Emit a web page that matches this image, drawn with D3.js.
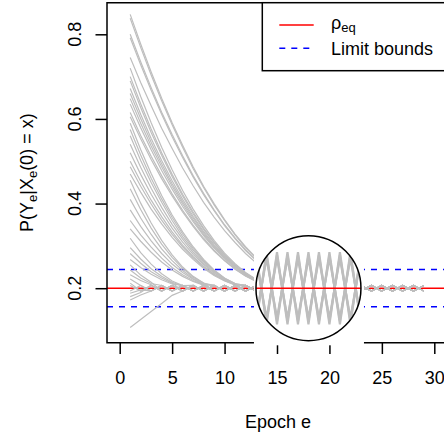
<!DOCTYPE html>
<html><head><meta charset="utf-8">
<script src="https://cdn.jsdelivr.net/npm/d3@7"></script>
<style>html,body{margin:0;padding:0;background:#fff}svg{display:block}</style>
</head><body><svg id="c" width="444" height="440"></svg>
<script>
// ---------------- data ----------------
const epochs = [1,2,3,4,5,6,7,8,9,10,11,12,13,14,15,16,17,18,19,20,21,22,23,24,25,26,27,28,29];
const rhoEq = 0.2;
const limitBounds = [0.244, 0.156];
const xTicks = [0,5,10,15,20,25,30];
const yTicks = [0.2,0.4,0.6,0.8];
const yTickLabels = ["0.2","0.4","0.6","0.8"];

// settled oscillation around rho_eq (two phases), epochs 1..29
const tailA = [0.2065,0.1935,0.2065,0.1935,0.2065,0.1935,0.2065,0.1935,0.2065,0.1935,0.2065,0.1935,0.2065,0.1935,0.2065,0.1935,0.2065,0.1935,0.2065,0.1935,0.2065,0.1935,0.2065,0.1935,0.2065,0.1935,0.2065,0.1935,0.2065];
const tailB = [0.1935,0.2065,0.1935,0.2065,0.1935,0.2065,0.1935,0.2065,0.1935,0.2065,0.1935,0.2065,0.1935,0.2065,0.1935,0.2065,0.1935,0.2065,0.1935,0.2065,0.1935,0.2065,0.1935,0.2065,0.1935,0.2065,0.1935,0.2065,0.1935];

// transient part of each trajectory, from epoch 1
const curveHeads = [
 [0.847,0.777,0.711,0.649,0.591,0.538,0.487,0.441,0.400,0.362,0.328,0.298,0.272,0.250,0.232,0.218,0.208],
 [0.838,0.769,0.704,0.643,0.586,0.533,0.483,0.438,0.397,0.360,0.326,0.296,0.271,0.249,0.231,0.218,0.208],
 [0.800,0.735,0.674,0.616,0.563,0.513,0.466,0.424,0.385,0.350,0.319,0.291,0.267,0.246,0.229,0.217,0.207],
 [0.792,0.728,0.668,0.611,0.558,0.509,0.463,0.421,0.383,0.348,0.317,0.289,0.266,0.246,0.229,0.217,0.207],
 [0.745,0.686,0.631,0.578,0.530,0.484,0.442,0.403,0.368,0.336,0.308,0.282,0.260,0.242,0.227,0.215,0.207],
 [0.720,0.653,0.591,0.533,0.480,0.431,0.387,0.348,0.313,0.283,0.258,0.237,0.221,0.209],
 [0.700,0.636,0.576,0.520,0.469,0.422,0.380,0.342,0.309,0.280,0.256,0.236,0.220,0.209],
 [0.690,0.627,0.568,0.514,0.464,0.418,0.376,0.339,0.307,0.278,0.254,0.235,0.220,0.209],
 [0.672,0.611,0.554,0.502,0.454,0.410,0.370,0.334,0.303,0.276,0.252,0.234,0.219,0.208],
 [0.660,0.601,0.545,0.494,0.447,0.404,0.366,0.331,0.300,0.274,0.251,0.233,0.218,0.208],
 [0.648,0.590,0.536,0.487,0.441,0.399,0.361,0.327,0.298,0.272,0.250,0.232,0.218,0.208],
 [0.635,0.579,0.527,0.478,0.434,0.393,0.357,0.324,0.295,0.270,0.248,0.231,0.217,0.208],
 [0.615,0.561,0.512,0.466,0.423,0.384,0.349,0.318,0.290,0.266,0.246,0.229,0.217,0.207],
 [0.605,0.553,0.504,0.459,0.418,0.380,0.346,0.315,0.288,0.265,0.245,0.229,0.216,0.207],
 [0.590,0.528,0.471,0.419,0.373,0.333,0.298,0.268,0.243,0.224,0.211],
 [0.575,0.515,0.460,0.411,0.367,0.328,0.294,0.265,0.242,0.223,0.211],
 [0.560,0.502,0.450,0.403,0.360,0.322,0.290,0.263,0.240,0.223,0.210],
 [0.540,0.486,0.436,0.391,0.351,0.316,0.285,0.259,0.238,0.221,0.210],
 [0.520,0.469,0.422,0.380,0.342,0.309,0.280,0.256,0.236,0.220,0.209],
 [0.500,0.452,0.408,0.369,0.333,0.302,0.275,0.252,0.233,0.219,0.208],
 [0.487,0.441,0.399,0.361,0.327,0.298,0.272,0.250,0.232,0.218,0.208],
 [0.470,0.427,0.387,0.352,0.320,0.292,0.268,0.247,0.230,0.217,0.208],
 [0.455,0.401,0.354,0.313,0.279,0.250,0.228,0.212],
 [0.435,0.386,0.342,0.304,0.273,0.247,0.226,0.212],
 [0.410,0.366,0.327,0.293,0.265,0.242,0.223,0.210],
 [0.385,0.346,0.312,0.282,0.257,0.237,0.221,0.209],
 [0.360,0.326,0.297,0.271,0.249,0.232,0.218,0.208],
 [0.340,0.311,0.285,0.262,0.243,0.228,0.216,0.207],
 [0.318,0.284,0.257,0.234,0.217,0.206],
 [0.296,0.269,0.246,0.228,0.214,0.205],
 [0.282,0.259,0.239,0.224,0.212],
 [0.268,0.249,0.233,0.220,0.210],
 [0.255,0.231,0.214],
 [0.243,0.224,0.211],
 [0.232,0.218,0.208],
 [0.222],
 [0.212],
 [],
 [],
 [0.188,0.196],
 [0.180,0.190],
 [0.172,0.184],
 [0.107,0.126,0.145,0.164,0.183]
];
const curvePhase = ["A","B","A","B","A","B","A","B","A","B","A","B","A","B","A","B","A","B","A","B","A","B","A","B","A","B","A","B","A","B","A","B","A","B","A","B","A","B","A","B","A","B","A"];

// magnified inset (zoom on rho_eq), epochs 12..24
const insetEpochs = [12,13,14,15,16,17,18,19,20,21,22,23,24];
const insetLo1 = [0.1941,0.2059,0.1941,0.2059,0.1941,0.2059,0.1941,0.2059,0.1941,0.2059,0.1941,0.2059,0.1941];
const insetLo2 = [0.1935,0.2065,0.1935,0.2065,0.1935,0.2065,0.1935,0.2065,0.1935,0.2065,0.1935,0.2065,0.1935];
const insetLo3 = [0.1929,0.2071,0.1929,0.2071,0.1929,0.2071,0.1929,0.2071,0.1929,0.2071,0.1929,0.2071,0.1929];
const insetHi1 = [0.2059,0.1941,0.2059,0.1941,0.2059,0.1941,0.2059,0.1941,0.2059,0.1941,0.2059,0.1941,0.2059];
const insetHi2 = [0.2065,0.1935,0.2065,0.1935,0.2065,0.1935,0.2065,0.1935,0.2065,0.1935,0.2065,0.1935,0.2065];
const insetHi3 = [0.2071,0.1929,0.2071,0.1929,0.2071,0.1929,0.2071,0.1929,0.2071,0.1929,0.2071,0.1929,0.2071];
const insetCenter = 18;

// ---------------- drawing ----------------
const FONT = "'Liberation Sans', Arial, Helvetica, sans-serif";
const GRAY = "#BEBEBE";
const svg = d3.select("#c");
svg.append("rect").attr("width",444).attr("height",440).attr("fill","#fff");

const P = {left:107, top:2.7, right:449, bottom:342.7};
const x = d3.scaleLinear().domain([0,30]).range([119.7,434.3]);
const y = d3.scaleLinear().domain([0.2,0.8]).range([288.2,34.3]);

const defs = svg.append("defs");
defs.append("clipPath").attr("id","plotclip").append("rect")
  .attr("x",P.left).attr("y",P.top).attr("width",P.right-P.left).attr("height",P.bottom-P.top);

const plotG = svg.append("g").attr("clip-path","url(#plotclip)");

// reference lines
plotG.append("line").attr("x1",P.left).attr("x2",P.right)
  .attr("y1",y(rhoEq)).attr("y2",y(rhoEq))
  .attr("stroke","#FF0000").attr("stroke-width",1.5);
plotG.selectAll("line.bound").data(limitBounds).join("line").attr("class","bound")
  .attr("x1",P.left).attr("x2",P.right)
  .attr("y1",d=>y(d)).attr("y2",d=>y(d))
  .attr("stroke","#0000FF").attr("stroke-width",1.5).attr("stroke-dasharray","6,6");

// trajectories
const series = curveHeads.map((h,i)=>{
  const tail = curvePhase[i]==="A" ? tailA : tailB;
  const vals = h.concat(tail.slice(h.length));
  return epochs.map((e,j)=>[e, vals[j]]);
});
const line = d3.line().x(d=>x(d[0])).y(d=>y(d[1]));
plotG.selectAll("path.traj").data(series).join("path").attr("class","traj")
  .attr("d",line).attr("fill","none").attr("stroke",GRAY).attr("stroke-width",1.2);

// box
svg.append("path")
  .attr("d",`M${P.right},${P.top}H${P.left}V${P.bottom}H${P.right}`)
  .attr("fill","none").attr("stroke","#000").attr("stroke-width",1.5);

// x axis
const xAxis = d3.axisBottom(x).tickValues(xTicks).tickSize(11.3).tickSizeOuter(0).tickPadding(17.2)
  .tickFormat(d3.format("d"));
const xg = svg.append("g").attr("transform",`translate(0,${P.bottom})`).call(xAxis);
xg.select(".domain").remove();
xg.selectAll("line").attr("stroke","#000").attr("stroke-width",1.5);
xg.selectAll("text").attr("font-family",FONT).attr("font-size",18).attr("fill","#000");

// y axis
const yAxis = d3.axisLeft(y).tickValues(yTicks).tickSize(11.5).tickSizeOuter(0).tickFormat("");
const yg = svg.append("g").attr("transform",`translate(${P.left},0)`).call(yAxis);
yg.select(".domain").remove();
yg.selectAll("line").attr("stroke","#000").attr("stroke-width",1.5);
svg.selectAll("text.ylab").data(yTicks).join("text").attr("class","ylab")
  .attr("transform",(d)=>`translate(81,${y(d)}) rotate(-90)`)
  .attr("text-anchor","middle").attr("font-family",FONT).attr("font-size",18)
  .text((d,i)=>yTickLabels[i]);

// axis titles
svg.append("text").attr("x",(P.left+P.right)/2).attr("y",428)
  .attr("text-anchor","middle").attr("font-family",FONT).attr("font-size",18).text("Epoch e");
const yt = svg.append("text").attr("transform",`translate(33,${(P.top+P.bottom)/2}) rotate(-90)`)
  .attr("text-anchor","middle").attr("font-family",FONT).attr("font-size",18);
yt.append("tspan").text("P(Y");
yt.append("tspan").attr("font-size",13).attr("dy",4).text("e");
yt.append("tspan").attr("dy",-4).text("|X");
yt.append("tspan").attr("font-size",13).attr("dy",4).text("e");
yt.append("tspan").attr("dy",-4).text("(0) = x)");

// blank-out region behind the inset
const cx = x(insetCenter), cy = y(rhoEq), R = 52.5;
svg.append("rect").attr("x",cx-54.5).attr("y",150).attr("width",110).attr("height",345.3-150)
  .attr("fill","#fff");

// magnified inset
defs.append("clipPath").attr("id","insetclip").append("circle")
  .attr("cx",cx).attr("cy",cy).attr("r",R);
svg.append("circle").attr("cx",cx).attr("cy",cy).attr("r",R).attr("fill","#fff");
const yIn = d3.scaleLinear().domain([0.1935,0.2065]).range([cy+33,cy-33]);
const insetSeries = [insetLo1,insetLo2,insetLo3,insetHi1,insetHi2,insetHi3]
  .map(vs=>insetEpochs.map((e,i)=>[e,vs[i]]));
const inG = svg.append("g").attr("clip-path","url(#insetclip)");
const lineIn = d3.line().x(d=>x(d[0])).y(d=>yIn(d[1]));
inG.selectAll("path").data(insetSeries).join("path")
  .attr("d",lineIn).attr("fill","none").attr("stroke",GRAY).attr("stroke-width",2.2);
inG.append("line").attr("x1",cx-R).attr("x2",cx+R).attr("y1",yIn(rhoEq)).attr("y2",yIn(rhoEq))
  .attr("stroke","#FF0000").attr("stroke-width",1.5);
svg.append("circle").attr("cx",cx).attr("cy",cy).attr("r",R)
  .attr("fill","none").attr("stroke","#000").attr("stroke-width",1.5);

// legend
const L = svg.append("g");
L.append("rect").attr("x",262.3).attr("y",P.top).attr("width",200).attr("height",68)
  .attr("fill","#fff").attr("stroke","#000").attr("stroke-width",1.5);
L.append("line").attr("x1",279.3).attr("x2",313.7).attr("y1",25).attr("y2",25)
  .attr("stroke","#FF0000").attr("stroke-width",1.5);
L.append("line").attr("x1",279.3).attr("x2",313.7).attr("y1",48.3).attr("y2",48.3)
  .attr("stroke","#0000FF").attr("stroke-width",1.5).attr("stroke-dasharray","6,6");
const t1 = L.append("text").attr("x",331).attr("y",28.5).attr("font-family",FONT).attr("font-size",18);
t1.append("tspan").text("ρ");
t1.append("tspan").attr("font-size",13).attr("dy",3.5).text("eq");
L.append("text").attr("x",331).attr("y",55).attr("font-family",FONT).attr("font-size",18).text("Limit bounds");
</script></body></html>
